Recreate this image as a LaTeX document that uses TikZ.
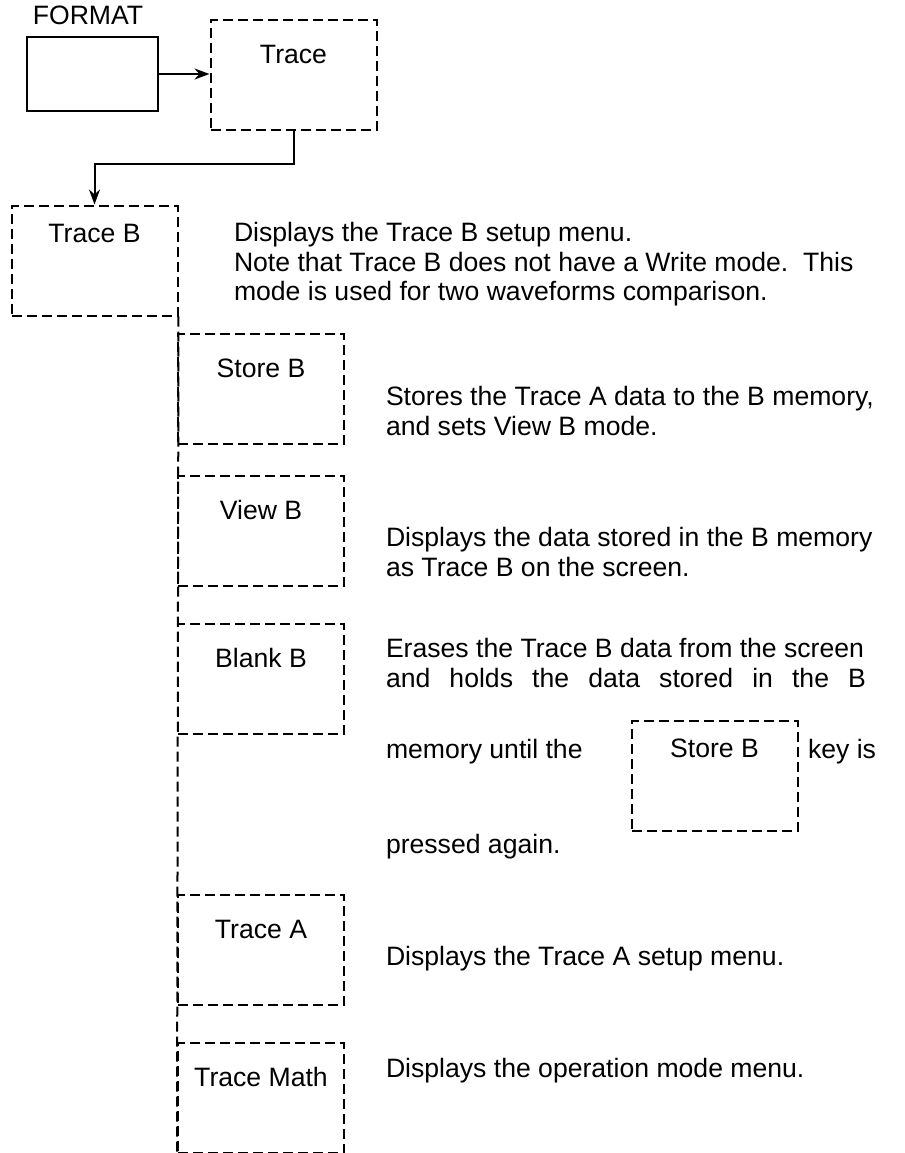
\documentclass[tikz,border=0pt]{standalone}
\usepackage{fontspec}
\setmainfont{Liberation Sans}
\usetikzlibrary{positioning,arrows.meta,calc}

\begin{document}
\begin{tikzpicture}[
  x=0.5pt, y=-0.5pt,
  >={Stealth[length=7.5pt,width=5.5pt]},
  line width=1pt,
  every node/.style={font=\fontsize{13.3}{14.9}\selectfont},
  keybox/.style={draw,dash pattern=on 5pt off 2.5pt,inner sep=0pt,
    minimum width=83pt,minimum height=55pt,text height=21.8pt,text depth=33.2pt},
  solidbox/.style={draw,inner sep=0pt,minimum width=65.5pt,minimum height=37pt},
  desc/.style={anchor=north west,align=left,inner sep=0pt}
]
\useasboundingbox (0,0) rectangle (905,1153);
% top of the tree
\node[anchor=south,inner sep=0pt] (fmtlabel) at (88,26) {FORMAT};
\node[solidbox] (fmt) at (92.5,74) {};
\node[keybox] (tr) at (293.5,75) {Trace};
\node[keybox,text height=18.3pt,text depth=36.7pt] (tb) at (94.5,260.5) {Trace B};
\draw[->] (fmt.east) -- (tr.west |- fmt.east);
\coordinate (elbow) at (0,164);
\draw[->] (tr.south) -- (tr.south |- elbow) -| (tb.north);
% menu keys under Trace B
\node[keybox,anchor=north west] (sb) at (177,333) {Store B};
\node[keybox,anchor=north west] (vb) at (177,475) {View B};
\node[keybox,anchor=north west] (bb) at (177,623) {Blank B};
\node[keybox,anchor=north west] (ta) at (177,894) {Trace A};
\node[keybox,anchor=north west] (tm) at (177,1042) {Trace Math};
\draw[dash pattern=on 5pt off 2.5pt] (tb.south east) -- (tm.south west);
% descriptions
\node[desc] (tbdesc) at (233,221) {Displays the Trace B setup menu.\\
  Note that Trace B does not have a Write mode.\ \ This\\
  mode is used for two waveforms comparison.};
\node[desc] (sbdesc) at (385,385) {Stores the Trace A data to the B memory,\\
  and sets View B mode.};
\node[desc] (vbdesc) at (385,526) {Displays the data stored in the B memory\\
  as Trace B on the screen.};
\node[desc] (bbdesc) at (385,637) {Erases the Trace B data from the screen\\
  \makebox[240pt][s]{and holds the data stored in the B}};
\node[desc] (bbmem) at (385,738) {memory until the};
\node[keybox,text height=18.3pt,text depth=36.7pt] (sbkey) at (714.5,776) {Store B};
\node[desc] (bbkey) at (807,738) {key is};
\node[desc] (bbagain) at (385,833) {pressed again.};
\node[desc] (tadesc) at (385,945) {Displays the Trace A setup menu.};
\node[desc] (tmdesc) at (385,1057) {Displays the operation mode menu.};
\end{tikzpicture}
\end{document}
